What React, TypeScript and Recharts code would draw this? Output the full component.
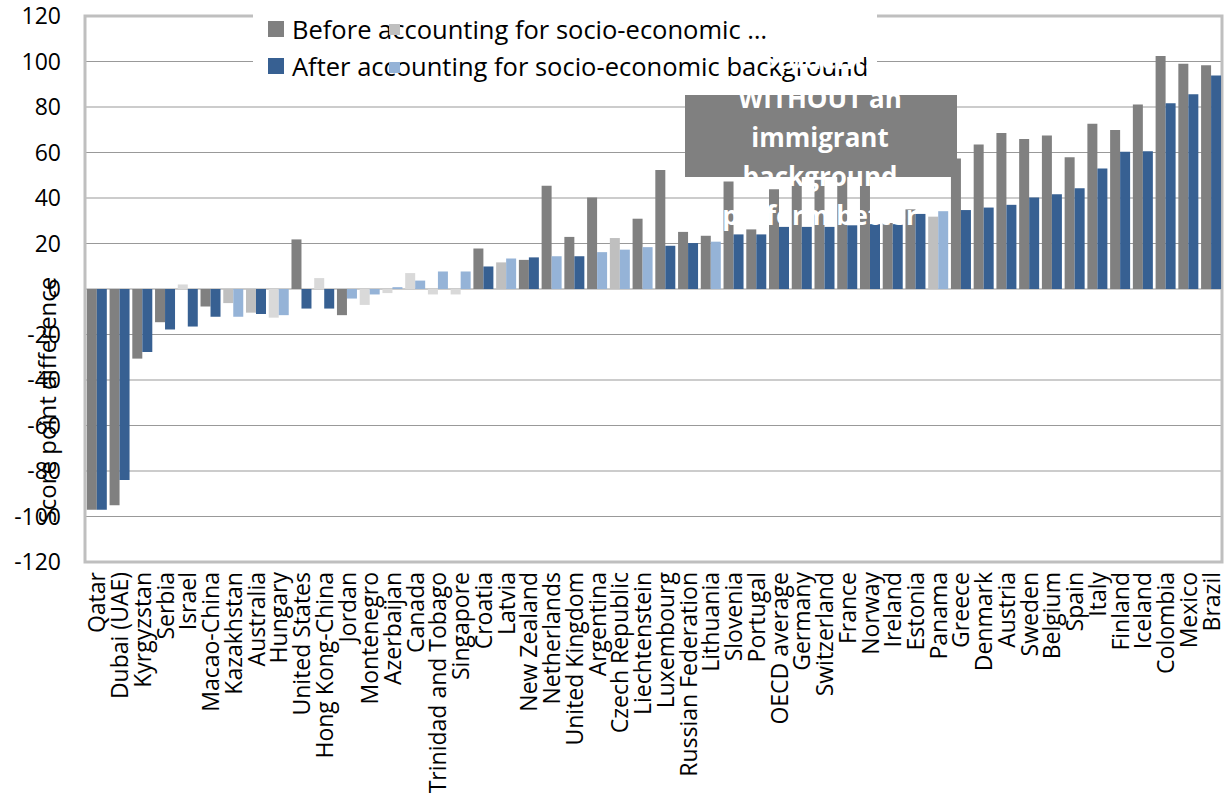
import {
  BarChart,
  Bar,
  XAxis,
  YAxis,
  CartesianGrid,
  Cell,
  Legend,
  Label,
  ReferenceArea,
} from "recharts";

const countries = [
  "Qatar", "Dubai (UAE)", "Kyrgyzstan", "Serbia", "Israel", "Macao-China",
  "Kazakhstan", "Australia", "Hungary", "United States", "Hong Kong-China",
  "Jordan", "Montenegro", "Azerbaijan", "Canada", "Trinidad and Tobago",
  "Singapore", "Croatia", "Latvia", "New Zealand", "Netherlands",
  "United Kingdom", "Argentina", "Czech Republic", "Liechtenstein",
  "Luxembourg", "Russian Federation", "Lithuania", "Slovenia", "Portugal",
  "OECD average", "Germany", "Switzerland", "France", "Norway", "Ireland",
  "Estonia", "Panama", "Greece", "Denmark", "Austria", "Sweden", "Belgium",
  "Spain", "Italy", "Finland", "Iceland", "Colombia", "Mexico", "Brazil",
];

// score point difference before accounting for socio-economic background
const beforeValues = [
  -97, -95, -30.6, -14.6, 2, -7.7, -6.2, -10.4, -12.6, 21.8, 4.8, -11.5, -7,
  -1.8, 7, -2.4, -2.4, 17.8, 11.7, 12.8, 45.4, 22.9, 40.2, 22.4, 30.9, 52.3,
  25.1, 23.4, 47.2, 26.2, 43.8, 55, 48, 58, 52, 29, 35, 31.8, 57.4, 63.5,
  68.6, 65.9, 67.5, 57.9, 72.6, 69.9, 81.1, 102.4, 99, 98.4,
];

// score point difference after accounting for socio-economic background
const afterValues = [
  -97, -84, -27.7, -17.8, -16.5, -12.2, -12.2, -11, -11.5, -8.6, -8.6, -4.2,
  -2.4, 0.8, 3.7, 7.7, 7.7, 9.9, 13.4, 13.9, 14.4, 14.4, 16.2, 17.3, 18.4, 19,
  20.2, 20.8, 24, 24, 27.3, 27.3, 27.3, 28, 28.5, 28.5, 33, 34.2, 34.7, 35.8,
  37, 40.2, 41.6, 44.3, 53, 60.3, 60.6, 81.6, 85.6, 93.9,
];

// 2 = significant, 1 / 0 = not significant (two shades in the source)
const beforeSignificance = [
  2, 2, 2, 2, 0, 2, 1, 1, 0, 2, 0, 2, 0, 0, 0, 0, 0, 2, 1, 2, 2, 2, 2, 1, 2,
  2, 2, 2, 2, 2, 2, 2, 2, 2, 2, 2, 2, 1, 2, 2, 2, 2, 2, 2, 2, 2, 2, 2, 2, 2,
];
const afterSignificance = [
  1, 1, 1, 1, 1, 1, 0, 1, 0, 1, 1, 0, 0, 0, 0, 0, 0, 1, 0, 1, 0, 1, 0, 0, 0,
  1, 1, 0, 1, 1, 1, 1, 1, 1, 1, 1, 1, 0, 1, 1, 1, 1, 1, 1, 1, 1, 1, 1, 1, 1,
];

const yTicks = [-120, -100, -80, -60, -40, -20, 0, 20, 40, 60, 80, 100, 120];

const beforeLabel = "Before accounting for socio-economic \u2026";
const afterLabel = "After accounting for socio-economic background";
const noteLines = ["Students", "WITHOUT an", "immigrant", "background", "perform better"];

const data = countries.map((country, i) => ({
  country,
  before: beforeValues[i],
  after: afterValues[i],
  beforeSig: beforeSignificance[i],
  afterSig: afterSignificance[i],
}));

const GREY = ["#d9d9d9", "#bfbfbf", "#808080"];
const BLUE = ["#95b3d7", "#376092"];
const FONT = "'Open Sans', sans-serif";

const CountryTick = ({ x, y, payload }: any) => (
  <text
    x={x}
    y={y}
    transform={`rotate(-90 ${x} ${y})`}
    textAnchor="end"
    dominantBaseline="central"
    fontSize={23}
    fontFamily={FONT}
    fill="#000"
  >
    {payload.value}
  </text>
);

const LegendBox = () => (
  <svg width={624} height={76} style={{ display: "block" }}>
    <rect x={15} y={13} width={16} height={16} fill={GREY[2]} />
    <text x={39} y={21} dominantBaseline="central" fontSize={25.5} fontFamily={FONT} fill="#000">
      {beforeLabel}
    </text>
    <rect x={136} y={16} width={11} height={11} fill={GREY[1]} />
    <rect x={15} y={50} width={16} height={16} fill={BLUE[1]} />
    <text x={39} y={58} dominantBaseline="central" fontSize={25.5} fontFamily={FONT} fill="#000">
      {afterLabel}
    </text>
    <rect x={136} y={54} width={11} height={11} fill={BLUE[0]} />
  </svg>
);

export default function App() {
  return (
    <div style={{ position: "absolute", left: 0, top: 0, width: 1230, height: 805, background: "#fff" }}>
      <BarChart
        width={1230}
        height={805}
        data={data}
        margin={{ top: 16, right: 8, bottom: 0, left: 0 }}
        barCategoryGap="8%"
        barGap={0}
      >
        <CartesianGrid vertical={false} stroke="#999" />
        <ReferenceArea y1={-120} y2={120} fill="none" stroke="#bfbfbf" strokeWidth={3} ifOverflow="visible" />
        <XAxis
          dataKey="country"
          interval={0}
          height={243}
          axisLine={false}
          tickLine={false}
          tickSize={0}
          tickMargin={10}
          tick={<CountryTick />}
        />
        <YAxis
          width={85}
          domain={[-120, 120]}
          ticks={yTicks}
          interval={0}
          axisLine={false}
          tickLine={false}
          tickSize={0}
          tickMargin={24}
          tick={{ fontSize: 23, fontFamily: FONT, fill: "#000" }}
        >
          <Label
            content={() => (
              <text
                x={46}
                y={400}
                transform="rotate(-90 46 400)"
                textAnchor="middle"
                dominantBaseline="central"
                fontSize={24}
                fontFamily={FONT}
                fill="#000"
              >
                Score point difference
              </text>
            )}
          />
        </YAxis>
        <Legend
          layout="vertical"
          align="center"
          verticalAlign="middle"
          wrapperStyle={{ left: 253, top: 8, width: 624, height: 76, background: "#fff" }}
          content={() => <LegendBox />}
        />
        <Bar dataKey="before" isAnimationActive={false}>
          {data.map((d) => (
            <Cell key={d.country} fill={GREY[d.beforeSig]} />
          ))}
        </Bar>
        <Bar dataKey="after" isAnimationActive={false}>
          {data.map((d) => (
            <Cell key={d.country} fill={BLUE[d.afterSig]} />
          ))}
        </Bar>
      </BarChart>
      <svg
        width={1230}
        height={805}
        style={{ position: "absolute", left: 0, top: 0, pointerEvents: "none" }}
      >
        <rect x={685} y={95} width={272} height={82} fill="#808080" />
        {noteLines.map((line, i) => (
          <text
            key={line}
            x={820}
            y={69 + i * 39}
            textAnchor="middle"
            fontSize={26}
            fontWeight="bold"
            fontFamily={FONT}
            fill="#fff"
          >
            {line}
          </text>
        ))}
      </svg>
    </div>
  );
}
